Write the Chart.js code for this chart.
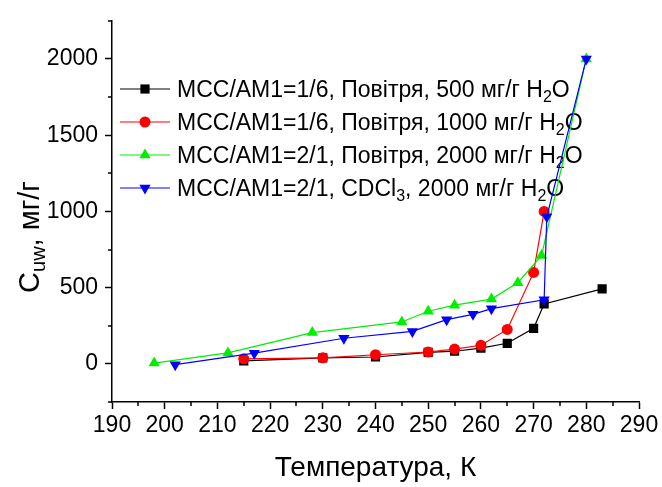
<!DOCTYPE html>
<html>
<head>
<meta charset="utf-8">
<script src="https://cdn.jsdelivr.net/npm/chart.js@4/dist/chart.umd.min.js"></script>
<style>
  html, body { margin: 0; padding: 0; background: #fff; }
  #wrap { width: 662px; height: 487px; position: relative; }
</style>
</head>
<body>
<div id="wrap"><canvas id="chart" width="662" height="487"></canvas></div>
<script>
// series: temperature (K) and C_uw (mg/g)
var blackT = [215, 230, 240, 250, 255, 260, 265, 270, 272, 283];
var blackC = [20, 40, 45, 75, 83, 103, 135, 233, 393, 492];
var redT = [215, 230, 240, 250, 255, 260, 265, 270, 272];
var redC = [33, 40, 60, 78, 97, 122, 226, 600, 1000];
var greenT = [198, 212, 228, 245, 250, 255, 262, 267, 271.5, 280];
var greenC = [5, 72, 205, 275, 345, 385, 425, 532, 710, 2000];
var blueT = [202, 217, 234, 247, 253.5, 258.5, 262, 272, 272.5, 280];
var blueC = [-5, 70, 168, 213, 290, 325, 362, 420, 965, 2000];

var legendLabels = [
  'МСС/АМ1=1/6, Повітря, 500 мг/г H_{2}O',
  'МСС/АМ1=1/6, Повітря, 1000 мг/г H_{2}O',
  'МСС/АМ1=2/1, Повітря, 2000 мг/г H_{2}O',
  'МСС/АМ1=2/1, CDCl_{3}, 2000 мг/г H_{2}O'
];
var xTitle = 'Температура, К';
var yTitle = 'C_{uw}, мг/г';

var xTicks = [190, 200, 210, 220, 230, 240, 250, 260, 270, 280, 290];
var xMinor = [195, 205, 215, 225, 235, 245, 255, 265, 275, 285];
var yTicks = [0, 500, 1000, 1500, 2000];
var yMinor = [-250, 250, 750, 1250, 1750, 2250];

var FONT = '"Liberation Sans", Arial, sans-serif';

function pts(xs, ys) {
  return xs.map(function(x, i) { return { x: x, y: ys[i] }; });
}

// split "abc_{de}f" into segments with a sub flag
function segments(str) {
  var out = [];
  var re = /_\{([^}]*)\}/g, last = 0, m;
  while ((m = re.exec(str)) !== null) {
    if (m.index > last) out.push({ t: str.slice(last, m.index), sub: false });
    out.push({ t: m[1], sub: true });
    last = re.lastIndex;
  }
  if (last < str.length) out.push({ t: str.slice(last), sub: false });
  return out;
}

function drawRich(ctx, str, x, y, size, align) {
  var segs = segments(str);
  var subSize = Math.round(size * 0.68);
  var total = 0;
  segs.forEach(function(s) {
    ctx.font = (s.sub ? subSize : size) + 'px ' + FONT;
    s.w = ctx.measureText(s.t).width;
    total += s.w;
  });
  var cx = align === 'center' ? x - total / 2 : x;
  ctx.textBaseline = 'alphabetic';
  ctx.textAlign = 'left';
  segs.forEach(function(s) {
    ctx.font = (s.sub ? subSize : size) + 'px ' + FONT;
    ctx.fillText(s.t, cx, y + (s.sub ? size * 0.22 : 0));
    cx += s.w;
  });
}

var extras = {
  id: 'extras',
  beforeDatasetsDraw: function(chart) {
    var ctx = chart.ctx;
    ctx.save();
    chart.data.datasets.forEach(function(ds, i) {
      var y = 89 + i * 33;
      ctx.strokeStyle = ds.borderColor;
      ctx.lineWidth = 1.2;
      ctx.beginPath();
      ctx.moveTo(120, y);
      ctx.lineTo(170, y);
      ctx.stroke();
      ctx.fillStyle = ds.backgroundColor;
      Chart.helpers.drawPoint(ctx, {
        pointStyle: ds.pointStyle,
        radius: ds.pointRadius,
        rotation: ds.pointRotation || 0,
        borderWidth: 0
      }, 145, y);
      ctx.fillStyle = '#000';
      drawRich(ctx, legendLabels[i], 177, y + 8, 23, 'left');
    });
    ctx.restore();
  },
  afterDraw: function(chart) {
    var ctx = chart.ctx;
    var xs = chart.scales.x, ys = chart.scales.y;
    ctx.save();
    ctx.strokeStyle = '#000';
    ctx.lineWidth = 1.5;
    xMinor.forEach(function(v) {
      var px = Math.round(xs.getPixelForValue(v));
      ctx.beginPath();
      ctx.moveTo(px, ys.bottom);
      ctx.lineTo(px, ys.bottom + 4);
      ctx.stroke();
    });
    yMinor.forEach(function(v) {
      var py = Math.round(ys.getPixelForValue(v));
      ctx.beginPath();
      ctx.moveTo(xs.left - 4, py);
      ctx.lineTo(xs.left, py);
      ctx.stroke();
    });
    ctx.fillStyle = '#000';
    drawRich(ctx, xTitle, (xs.left + xs.right) / 2, 476, 28, 'center');
    ctx.translate(39, 237);
    ctx.rotate(-Math.PI / 2);
    drawRich(ctx, yTitle, 0, 0, 29, 'center');
    ctx.restore();
  }
};

function series(data, color, style, radius, rotation, order) {
  return {
    data: data,
    borderColor: color,
    backgroundColor: color,
    borderWidth: 1.2,
    pointStyle: style,
    pointRadius: radius,
    pointHoverRadius: radius,
    pointRotation: rotation,
    pointBorderWidth: 0,
    order: order,
    tension: 0
  };
}

new Chart(document.getElementById('chart'), {
  type: 'line',
  data: {
    datasets: [
      series(pts(blackT, blackC), '#000000', 'rect', 6.5, 0, 4),
      series(pts(redT, redC), '#ff0000', 'circle', 5.5, 0, 3),
      series(pts(greenT, greenC), '#00ee00', 'triangle', 6.5, 0, 2),
      series(pts(blueT, blueC), '#0000ff', 'triangle', 6.5, 180, 1)
    ]
  },
  options: {
    responsive: false,
    animation: false,
    layout: { padding: { top: 14, right: 23, left: 0, bottom: 0 } },
    plugins: { legend: { display: false }, tooltip: { enabled: false } },
    scales: {
      x: {
        type: 'linear',
        min: 190,
        max: 290,
        afterBuildTicks: function(s) { s.ticks = xTicks.map(function(v) { return { value: v }; }); },
        afterFit: function(s) { s.height = 85; },
        ticks: {
          color: '#000', font: { family: FONT, size: 23 }, padding: 3, maxRotation: 0, autoSkip: false,
          callback: function(v) { return String(v); }
        },
        grid: { drawOnChartArea: false, tickLength: 7, tickColor: '#000', tickWidth: 1.5 },
        border: { color: '#000', width: 1.5 }
      },
      y: {
        min: -250,
        max: 2250,
        afterBuildTicks: function(s) { s.ticks = yTicks.map(function(v) { return { value: v }; }); },
        afterFit: function(s) { s.width = 112; },
        ticks: {
          color: '#000', font: { family: FONT, size: 23 }, padding: 7,
          callback: function(v) { return String(v); }
        },
        grid: { drawOnChartArea: false, tickLength: 7, tickColor: '#000', tickWidth: 1.5 },
        border: { color: '#000', width: 1.5 }
      }
    }
  },
  plugins: [extras]
});
</script>
</body>
</html>
